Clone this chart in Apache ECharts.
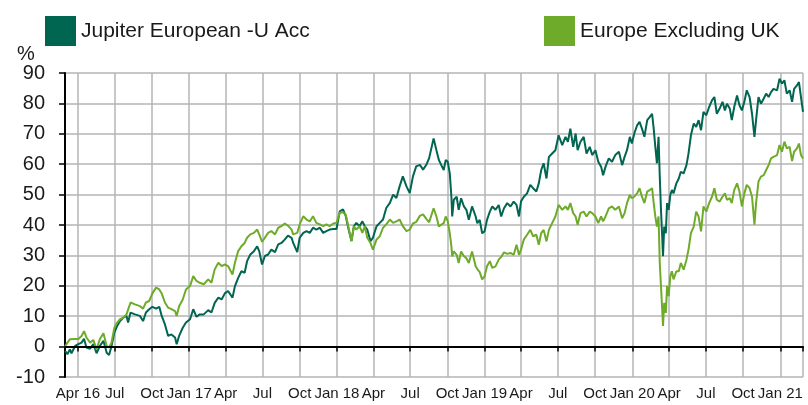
<!DOCTYPE html>
<html>
<head>
<meta charset="utf-8">
<script src="https://cdn.jsdelivr.net/npm/echarts@6/dist/echarts.min.js"></script>
<style>
  html, body { margin: 0; padding: 0; background: #fff; }
  #chart { width: 808px; height: 405px; }
</style>
</head>
<body>
<div id="chart"></div>
<script>
// dates of the points
const dates = [
  '2016-02-29','2016-03-06','2016-03-12','2016-03-16','2016-03-25','2016-04-02','2016-04-10','2016-04-16','2016-04-22','2016-05-01',
  '2016-05-09','2016-05-17','2016-05-25','2016-06-03','2016-06-11','2016-06-17','2016-06-23','2016-06-30','2016-07-07','2016-07-14',
  '2016-07-22','2016-07-30','2016-08-03','2016-08-09','2016-08-20','2016-09-01','2016-09-09','2016-09-16','2016-09-24','2016-10-02',
  '2016-10-11','2016-10-19','2016-10-25','2016-11-02','2016-11-10','2016-11-18','2016-11-27','2016-12-01','2016-12-07','2016-12-16',
  '2016-12-24',
  '2017-01-03','2017-01-11','2017-01-19','2017-01-27','2017-02-06','2017-02-17','2017-02-25','2017-03-05','2017-03-14','2017-03-22',
  '2017-03-30','2017-04-07','2017-04-18','2017-04-24','2017-05-02','2017-05-10','2017-05-18','2017-05-24','2017-06-01','2017-06-10',
  '2017-06-18','2017-06-23','2017-06-30','2017-07-07','2017-07-15','2017-07-23','2017-08-01','2017-08-09','2017-08-17','2017-08-25',
  '2017-09-02','2017-09-11','2017-09-15','2017-09-25','2017-10-01','2017-10-10','2017-10-18','2017-10-26','2017-11-03','2017-11-11',
  '2017-11-20','2017-11-28','2017-12-06','2017-12-14','2017-12-23','2017-12-31',
  '2018-01-08','2018-01-16','2018-01-23','2018-01-29','2018-02-06','2018-02-12','2018-02-18','2018-02-26','2018-03-05','2018-03-11',
  '2018-03-17','2018-03-25','2018-03-31','2018-04-09','2018-04-17','2018-04-25','2018-05-03','2018-05-12','2018-05-20','2018-05-28',
  '2018-06-05','2018-06-13','2018-06-22','2018-06-30','2018-07-08','2018-07-16','2018-07-25','2018-08-02','2018-08-10','2018-08-17',
  '2018-08-28','2018-09-04','2018-09-10','2018-09-16','2018-09-22','2018-09-27','2018-10-02','2018-10-07','2018-10-11','2018-10-13',
  '2018-10-17','2018-10-24','2018-10-29','2018-11-04','2018-11-11','2018-11-17','2018-11-23','2018-12-01','2018-12-10','2018-12-14',
  '2018-12-20','2018-12-26',
  '2019-01-01','2019-01-07','2019-01-14','2019-01-20','2019-01-28','2019-02-05','2019-02-11','2019-02-18','2019-02-26','2019-03-06',
  '2019-03-14','2019-03-21','2019-03-27','2019-04-01','2019-04-08','2019-04-16','2019-04-24','2019-05-01','2019-05-09','2019-05-15',
  '2019-05-21','2019-05-27','2019-06-03','2019-06-09','2019-06-17','2019-06-25','2019-07-03','2019-07-12','2019-07-20','2019-07-26',
  '2019-08-01','2019-08-08','2019-08-14','2019-08-19','2019-08-26','2019-09-03','2019-09-10','2019-09-18','2019-09-24','2019-10-02',
  '2019-10-09','2019-10-16','2019-10-21','2019-10-27','2019-11-04','2019-11-12','2019-11-20','2019-11-29','2019-12-07','2019-12-13',
  '2019-12-19','2019-12-26','2019-12-31',
  '2020-01-06','2020-01-13','2020-01-19','2020-01-25','2020-01-31','2020-02-07','2020-02-13','2020-02-19','2020-02-23','2020-02-27',
  '2020-03-02','2020-03-06','2020-03-09','2020-03-12','2020-03-15','2020-03-17','2020-03-20','2020-03-24','2020-03-27','2020-03-31',
  '2020-04-04','2020-04-08','2020-04-12','2020-04-19','2020-04-25','2020-04-30','2020-05-07','2020-05-14','2020-05-19','2020-05-25',
  '2020-06-01','2020-06-07','2020-06-13','2020-06-19','2020-06-25','2020-07-02','2020-07-09','2020-07-16','2020-07-22','2020-07-28',
  '2020-08-04','2020-08-11','2020-08-17','2020-08-22','2020-08-29','2020-09-03','2020-09-09','2020-09-16','2020-09-22','2020-09-28',
  '2020-10-04','2020-10-10','2020-10-17','2020-10-23','2020-10-29','2020-11-02','2020-11-08','2020-11-14','2020-11-21','2020-11-27',
  '2020-12-03','2020-12-09','2020-12-15','2020-12-24','2020-12-30',
  '2021-01-05','2021-01-11','2021-01-17','2021-01-24','2021-01-30','2021-02-04','2021-02-11','2021-02-16','2021-02-21','2021-02-26'
]

// Jupiter European -U Acc, cumulative %
const fund = [
  -1.4,-2.5,-0.9,-2.2,0.2,0.8,1.3,2.6,-0.3,-0.7,
  0.8,-2.2,0.2,1.9,-2.0,-2.8,0.2,4.6,6.8,8.4,
  9.5,10.1,7.9,11.2,10.6,10.1,8.4,11.2,12.3,13.1,
  12.5,13.1,10.1,7.3,3.5,4.0,3.0,0.8,3.5,6.2,
  7.9,
  9.0,12.3,9.8,10.6,10.6,12.0,11.2,14.4,16.1,15.5,
  17.5,18.3,16.1,19.9,22.6,24.8,24.3,28.1,30.3,31.4,
  33.0,31.4,27.0,29.8,30.3,31.9,31.1,33.6,34.1,35.2,
  36.5,35.8,34.1,31.1,35.8,37.4,38.0,37.4,39.1,38.5,
  39.1,37.4,38.0,38.5,38.7,38.7,
  44.5,45.1,42.9,39.1,34.7,39.6,40.7,39.6,41.2,39.6,
  38.5,34.7,35.8,39.6,40.7,41.8,45.6,47.3,50.0,48.9,
  52.7,56.0,52.7,50.5,56.0,59.3,59.8,58.2,59.8,62.0,
  68.5,64.6,61.4,59.7,58.1,61.4,60.8,57.0,49.3,42.8,
  48.3,49.3,45.0,48.8,46.1,45.0,41.7,46.1,42.8,40.6,
  41.7,37.3,
  37.9,41.7,44.4,46.1,45.0,46.6,42.8,45.5,47.2,46.1,
  47.7,46.6,42.8,47.7,49.3,50.4,53.2,52.1,51.0,53.7,
  58.1,60.3,55.3,62.4,63.5,64.6,69.5,66.3,69.0,67.4,
  71.7,65.7,70.1,64.6,67.4,69.0,63.5,65.7,63.0,64.6,
  60.8,59.2,56.4,59.2,61.9,60.8,63.0,64.1,59.7,62.4,
  64.6,69.0,66.8,
  70.1,72.8,73.9,71.7,69.0,74.5,75.5,76.6,71.7,65.7,
  60.3,69.0,55.9,45.0,36.2,29.7,39.5,37.3,47.2,45.0,
  49.9,51.5,50.4,53.7,55.3,57.5,57.0,59.7,63.5,69.5,
  73.4,72.3,74.5,71.2,77.2,76.1,78.8,81.0,82.1,76.6,
  78.3,80.5,77.7,79.9,78.3,74.5,78.8,82.6,79.4,77.7,
  80.5,84.3,82.1,76.6,69.0,74.5,82.1,79.9,81.6,83.2,
  82.1,83.7,84.8,84.3,88.1,
  86.5,87.6,83.2,84.3,80.5,84.8,85.9,87.0,82.1,77.2
]

// Europe Excluding UK sector, cumulative %
const sector = [
  0.0,1.3,2.4,2.7,2.5,2.5,3.5,5.1,3.0,1.3,
  2.2,-0.9,2.4,4.4,0.2,-0.3,1.3,6.2,7.9,9.0,
  9.5,10.6,10.1,14.5,13.9,13.3,12.5,14.5,15.0,17.5,
  19.4,18.8,17.5,14.5,12.8,12.3,11.7,10.1,13.3,15.5,
  18.8,
  19.9,23.2,21.6,21.0,20.5,22.1,21.0,25.4,27.6,26.5,
  27.0,26.5,23.7,27.6,31.4,33.0,34.1,35.8,36.9,37.4,
  38.5,36.9,34.4,35.8,37.4,38.0,36.9,39.1,39.6,40.5,
  39.8,38.5,36.9,37.4,40.2,42.9,41.8,41.2,42.9,40.7,
  40.2,39.6,40.2,39.6,40.5,40.7,
  44.0,44.2,43.4,39.6,34.7,39.6,38.5,39.6,37.4,39.6,
  35.8,34.1,31.9,35.2,36.3,39.1,40.2,41.8,40.7,41.2,
  41.8,39.6,38.0,38.5,40.5,41.0,43.0,43.5,42.0,40.9,
  45.5,42.8,39.5,40.1,40.6,42.8,41.2,37.3,33.0,29.7,
  31.3,30.2,27.5,31.3,29.7,29.1,27.5,31.3,26.4,25.5,
  24.5,22.1,
  23.1,26.4,28.1,25.9,26.4,28.6,29.5,31.0,30.5,30.8,
  30.2,33.5,30.2,31.9,35.2,36.8,38.4,36.3,36.8,33.5,
  37.3,38.4,34.6,38.4,40.6,42.8,46.6,45.0,46.1,45.0,
  47.2,43.9,42.8,40.1,43.9,44.4,42.8,44.4,43.9,42.8,
  40.6,42.8,41.2,42.8,45.5,46.1,45.0,46.1,42.2,43.9,
  47.2,49.9,48.8,
  49.3,50.4,52.1,49.3,47.2,51.0,51.5,52.1,47.2,42.8,
  39.5,42.8,27.5,19.9,12.2,6.8,14.4,11.1,19.9,16.6,
  23.1,24.8,22.1,24.8,24.8,27.5,25.3,28.6,31.9,37.3,
  39.5,44.4,42.8,37.9,46.1,44.4,47.2,49.3,52.1,48.3,
  47.7,49.3,50.4,48.3,48.8,47.2,51.5,53.7,51.0,46.1,
  50.4,53.2,52.1,49.3,40.1,47.2,54.3,55.9,56.4,58.1,
  59.7,61.9,62.4,63.0,66.3,
  64.1,67.4,65.2,65.7,61.0,64.1,65.2,66.8,63.0,61.9
]

const startDate = '2016-02-29'
const endDate = '2021-02-26'

// x axis ticks (quarter starts) and their labels
const tickDates = [
  '2016-04-01','2016-07-01','2016-10-01','2017-01-01','2017-04-01','2017-07-01','2017-10-01',
  '2018-01-01','2018-04-01','2018-07-01','2018-10-01','2019-01-01','2019-04-01','2019-07-01',
  '2019-10-01','2020-01-01','2020-04-01','2020-07-01','2020-10-01','2021-01-01'
]
const tickLabels = [
  'Apr 16','Jul','Oct','Jan 17','Apr','Jul','Oct',
  'Jan 18','Apr','Jul','Oct','Jan 19','Apr','Jul',
  'Oct','Jan 20','Apr','Jul','Oct','Jan 21'
]

const fundName = 'Jupiter European -U Acc'
const sectorName = 'Europe Excluding UK'
const textColor = '#1a1a1a'
const gridColor = '#b4b4b4'

// dates -> timestamps for a plain value axis
const toTime = (d) => echarts.time.parse(d).getTime()
const tickTimes = tickDates.map(toTime)
const startTime = toTime(startDate)
const endTime = toTime(endDate)

const chart = echarts.init(document.getElementById('chart'))
chart.setOption({
  animation: false,
  title: {
    text: '%',
    left: 12,
    top: 39,
    textStyle: { fontSize: 20, fontWeight: 'normal', color: textColor, fontFamily: 'Liberation Sans' }
  },
  legend: [
    {
      data: [fundName],
      left: 40,
      top: 11,
      icon: 'rect',
      itemWidth: 31,
      itemHeight: 30,
      textStyle: { fontSize: 21, color: textColor, fontFamily: 'Liberation Sans' }
    },
    {
      data: [sectorName],
      left: 539,
      top: 11,
      icon: 'rect',
      itemWidth: 31,
      itemHeight: 30,
      textStyle: { fontSize: 21, color: textColor, fontFamily: 'Liberation Sans' }
    }
  ],
  grid: {
    left: 65,
    right: 5,
    top: 73,
    bottom: 28,
    outerBoundsMode: 'none'
  },
  xAxis: {
    type: 'value',
    min: startTime,
    max: endTime,
    axisLine: { show: true, lineStyle: { color: '#000', width: 2 } },
    axisTick: {
      show: true,
      length: 5,
      customValues: [startTime].concat(tickTimes, [endTime]),
      lineStyle: { color: '#000', width: 1.5 }
    },
    axisLabel: {
      customValues: tickTimes,
      margin: 9,
      fontSize: 15,
      color: textColor,
      fontFamily: 'Liberation Sans',
      formatter: (value) => {
        const i = tickTimes.findIndex(t => Math.abs(t - value) < 43200000)
        return i >= 0 ? tickLabels[i] : ''
      }
    },
    splitLine: { show: true, lineStyle: { color: gridColor, width: 1.5 } }
  },
  yAxis: {
    type: 'value',
    min: -10,
    max: 90,
    interval: 10,
    axisLine: { show: true, lineStyle: { color: '#000', width: 2 } },
    axisTick: { show: true, length: 6, lineStyle: { color: '#000', width: 1.5 } },
    axisLabel: { margin: 20, fontSize: 20, color: textColor, fontFamily: 'Liberation Sans' },
    splitLine: { show: true, lineStyle: { color: gridColor, width: 1.5 } }
  },
  series: [
    {
      name: fundName,
      type: 'line',
      data: dates.map((d, i) => [toTime(d), fund[i]]),
      showSymbol: false,
      color: '#006551',
      lineStyle: { width: 2, color: '#006551' },
      markLine: {
        silent: true,
        symbol: 'none',
        label: { show: false },
        lineStyle: { color: '#000', width: 2, type: 'solid' },
        data: [{ yAxis: 0 }]
      }
    },
    {
      name: sectorName,
      type: 'line',
      data: dates.map((d, i) => [toTime(d), sector[i]]),
      showSymbol: false,
      color: '#6fab2a',
      lineStyle: { width: 2, color: '#6fab2a' }
    }
  ]
})
</script>
</body>
</html>
